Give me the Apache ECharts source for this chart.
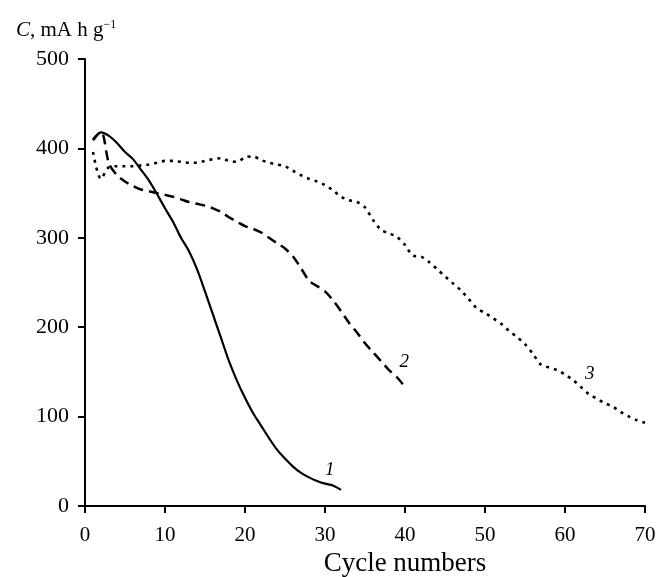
<!DOCTYPE html>
<html>
<head>
<meta charset="utf-8">
<script src="https://cdn.jsdelivr.net/npm/echarts@6/dist/echarts.min.js"></script>
<style>
html,body{margin:0;padding:0;background:#fff;}
#chart{width:658px;height:577px;}
</style>
</head>
<body>
<div id="chart"></div>
<script>
// capacity vs cycle number
var cycles1 = [1,2,3,4,5,6,7,8,9,10,11,12,13,14,15,16,17,18,19,20,21,22,23,24,25,26,27,28,29,30,31,32];
var cap1 = [410,418,414,406,396,388,376,364,349,333,318,300,285,265,240,214,188,162,140,121,104,90,76,63,53,44,37,32,28,25,23,18];

var cycles2 = [1,2,3,4,5,6,7,8,9,10,11,12,13,14,15,16,17,18,19,20,21,22,23,24,25,26,27,28,29,30,31,32,33,34,35,36,37,38,39,40];
var cap2 = [409,419,383,370,363,358,354,352,350,348,346,343,340,338,336,333,329,323,318,313,310,306,300,294,288,279,266,252,246,240,230,218,205,194,182,172,162,152,144,133];

var cycles3 = [];
for (var k = 1; k <= 70; k++) cycles3.push(k);
var cap3 = [396,366,379,380,380,380,381,382,384,386,386,385,384,384,386,388,389,386,385,390,391,387,384,382,380,375,370,366,363,359,353,346,342,340,334,320,309,305,301,292,280,279,273,265,257,249,241,231,221,216,210,204,196,189,181,170,158,155,152,147,141,133,125,120,115,111,105,100,96,93];

var curveNames = ['1','2','3'];
var labelAt = [[30.6,40],[39.9,161],[63.1,148]];

function pairs(xs, ys){
	var out = [];
	for(var i=0;i<xs.length;i++){
		out.push([xs[i], ys[i]]);
	}
	return out;
}

var serif = '"Liberation Serif", "DejaVu Serif", serif';

//curve number written next to each line
function curveLabel(idx){
	return {
		symbol: 'circle',
		symbolSize: 0,
		label: {
			show: true,
			formatter: curveNames[idx],
			fontFamily: serif,
			fontStyle: 'italic',
			fontSize: 19,
			color: '#000',
			position: 'inside'
		},
		data: [{coord: labelAt[idx]}]
	};
}

var myChart = echarts.init(document.getElementById('chart'));
var option = {
	animation: false,
	backgroundColor: '#fff',
	title: {
		left: 11,
		top: 14,
		text: '{i|C}, mA h g{sup|−1}',
		textStyle: {
			fontFamily: serif,
			fontSize: 21,
			fontWeight: 'normal',
			color: '#000',
			rich: {
				i: {fontFamily: serif, fontSize: 21, fontStyle: 'italic', color: '#000'},
				sup: {fontFamily: serif, fontSize: 12, color: '#000', verticalAlign: 'top', padding: [0,0,10,0]}
			}
		}
	},
	grid: {left: 85, right: 13, top: 59, bottom: 71, containLabel: false, outerBoundsMode: 'none'},
	xAxis: {
		type: 'value',
		min: 0,
		max: 70,
		interval: 10,
		name: 'Cycle numbers',
		nameLocation: 'middle',
		nameGap: 41,
		nameTextStyle: {fontFamily: serif, fontSize: 27, color: '#000', padding: [0, 0, 0, 80]},
		axisLine: {lineStyle: {color: '#000', width: 2}},
		axisTick: {inside: false, length: 7, lineStyle: {color: '#000', width: 2}},
		axisLabel: {fontFamily: serif, fontSize: 21, color: '#000', margin: 19},
		splitLine: {show: false}
	},
	yAxis: {
		type: 'value',
		min: 0,
		max: 500,
		interval: 100,
		axisLine: {show: true, lineStyle: {color: '#000', width: 2}},
		axisTick: {show: true, length: 7, lineStyle: {color: '#000', width: 2}},
		axisLabel: {fontFamily: serif, fontSize: 22, color: '#000', margin: 16},
		splitLine: {show: false}
	},
	series: [
		{
			name: '1',
			type: 'line',
			data: pairs(cycles1, cap1),
			showSymbol: false,
			smooth: 0.3,
			lineStyle: {color: '#000', width: 2.2, type: 'solid'},
			markPoint: curveLabel(0)
		},
		{
			name: '2',
			type: 'line',
			data: pairs(cycles2, cap2),
			showSymbol: false,
			smooth: 0.3,
			lineStyle: {color: '#000', width: 2.5, type: [10, 6]},
			markPoint: curveLabel(1)
		},
		{
			name: '3',
			type: 'line',
			data: pairs(cycles3, cap3),
			showSymbol: false,
			smooth: 0.3,
			lineStyle: {color: '#000', width: 2.6, type: [3, 5]},
			markPoint: curveLabel(2)
		}
	]
};
myChart.setOption(option);
</script>
</body>
</html>
